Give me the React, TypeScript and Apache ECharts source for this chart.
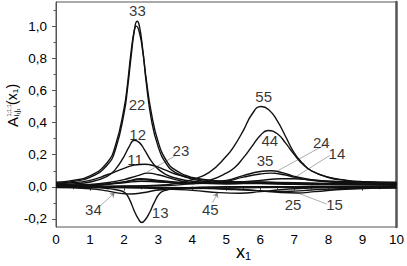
import React, { useEffect, useRef } from "react";
import * as echarts from "echarts";

// ---- data (x1, A) ----
const c33 = [[0,0.022],[0.5,0.033],[1,0.059],[1.5,0.134],[1.75,0.235],[2,0.46],[2.1,0.61],[2.2,0.8],[2.3,0.97],[2.38,1.03],[2.45,1.0],[2.55,0.85],[2.65,0.65],[2.8,0.42],[3,0.25],[3.25,0.14],[3.5,0.09],[4,0.048],[4.5,0.032],[5,0.025],[6,0.022],[7,0.02],[8,0.018],[10,0.015]];
const c22 = [[0,0.028],[0.5,0.04],[1,0.068],[1.5,0.15],[1.75,0.26],[2,0.49],[2.1,0.64],[2.2,0.83],[2.3,0.975],[2.36,1.0],[2.45,0.96],[2.55,0.84],[2.65,0.67],[2.8,0.46],[3,0.28],[3.25,0.16],[3.5,0.105],[4,0.058],[4.5,0.042],[5,0.034],[6,0.03],[7,0.025],[8,0.02],[10,0.016]];
const c12 = [[0,0.012],[0.5,0.018],[1,0.03],[1.5,0.065],[1.75,0.11],[2,0.19],[2.15,0.25],[2.3,0.29],[2.45,0.275],[2.6,0.23],[2.8,0.16],[3,0.11],[3.25,0.075],[3.5,0.055],[4,0.035],[5,0.022],[6,0.02],[7,0.015],[8,0.012],[10,0.01]];
const c11 = [[0,0.02],[0.5,0.025],[1,0.04],[1.5,0.075],[2,0.115],[2.3,0.135],[2.6,0.14],[2.9,0.13],[3.2,0.105],[3.5,0.08],[4,0.055],[4.5,0.04],[5,0.032],[6,0.028],[7,0.024],[8,0.02],[10,0.015]];
const c13 = [[0,0],[1,-0.003],[1.5,-0.01],[1.8,-0.02],[2.02,-0.036],[2.15,-0.075],[2.3,-0.15],[2.42,-0.2],[2.52,-0.222],[2.62,-0.205],[2.75,-0.16],[2.88,-0.1],[3.05,-0.04],[3.25,-0.02],[3.5,-0.01],[4,-0.004],[5,0],[10,0]];
const c55 = [[0,0.002],[1,0.003],[2,0.005],[3,0.01],[3.5,0.02],[4,0.045],[4.5,0.09],[5,0.19],[5.25,0.26],[5.5,0.35],[5.75,0.45],[6.02,0.5],[6.25,0.48],[6.5,0.41],[6.75,0.31],[7,0.21],[7.25,0.145],[7.5,0.1],[8,0.06],[8.5,0.042],[9,0.032],[10,0.022]];
const c44 = [[0,0],[2,0.003],[3,0.006],[4,0.02],[4.5,0.04],[5,0.085],[5.25,0.12],[5.5,0.18],[5.75,0.25],[6,0.32],[6.23,0.35],[6.5,0.33],[6.75,0.27],[7,0.2],[7.25,0.14],[7.5,0.1],[8,0.058],[8.5,0.04],[9,0.03],[10,0.02]];
const c35 = [[0,0.005],[1,0.01],[2,0.03],[2.5,0.05],[3,0.04],[4,0.025],[5,0.04],[5.5,0.07],[6,0.095],[6.3,0.1],[6.7,0.085],[7,0.065],[7.5,0.045],[8,0.035],[9,0.03],[10,0.025]];
const c24 = [[0,0.005],[1,0.008],[2,0.03],[2.5,0.045],[3,0.035],[4,0.02],[5,0.035],[5.5,0.06],[6,0.08],[6.3,0.085],[6.7,0.075],[7,0.06],[7.5,0.04],[8,0.03],[9,0.025],[10,0.02]];
const c14 = [[0,0.01],[1,0.012],[2,0.025],[2.5,0.035],[3,0.03],[4,0.02],[5,0.025],[6,0.04],[6.6,0.05],[7,0.05],[7.5,0.042],[8,0.035],[9,0.03],[10,0.028]];
const c23 = [[0,0.01],[1,0.015],[1.5,0.025],[2,0.045],[2.4,0.07],[2.7,0.085],[3,0.075],[3.5,0.045],[4,0.025],[5,0.018],[6,0.025],[7,0.02],[8,0.015],[10,0.012]];
const c34 = [[0,-0.005],[1,-0.012],[1.5,-0.025],[1.8,-0.038],[2.2,-0.045],[2.6,-0.035],[3,-0.02],[4,-0.01],[5,-0.008],[6,-0.005],[8,-0.003],[10,-0.002]];
const c45 = [[0,-0.002],[2,-0.005],[3,-0.01],[4,-0.022],[4.8,-0.036],[5.4,-0.04],[6,-0.03],[6.5,-0.02],[7,-0.012],[8,-0.006],[10,-0.003]];
const c15 = [[0,-0.002],[2,-0.004],[4,-0.008],[5,-0.015],[6,-0.025],[6.6,-0.035],[7.1,-0.038],[7.6,-0.03],[8.5,-0.015],[10,-0.008]];
const c25 = [[0,0],[2,-0.002],[4,-0.006],[5,-0.012],[5.8,-0.022],[6.4,-0.03],[7,-0.027],[7.5,-0.02],[8.5,-0.01],[10,-0.005]];

const curves = [c33, c22, c12, c11, c13, c55, c44, c35, c24, c14, c23, c34, c45, c15, c25];

// curve labels: [x, y, text]
const curveLabels = [
  [2.39, 1.1, "33"], [2.38, 0.515, "22"], [2.4, 0.326, "12"], [2.32, 0.17, "11"],
  [3.67, 0.226, "23"], [1.1, -0.144, "34"], [3.06, -0.157, "13"], [4.53, -0.138, "45"],
  [6.1, 0.56, "55"], [6.28, 0.29, "44"], [6.14, 0.163, "35"], [7.79, 0.273, "24"],
  [8.25, 0.207, "14"], [6.96, -0.113, "25"], [8.18, -0.113, "15"],
];
// leader lines (plain): [[x1,y1],[x2,y2]]
const leaders = [
  [[3.52, 0.195], [2.66, 0.09]],
  [[8.04, 0.278], [6.36, 0.082]],
  [[8.04, 0.195], [6.95, 0.05]],
  [[7.95, -0.107], [7.07, -0.036]],
];
// leader lines with arrow heads
const arrows = [
  [[1.29, -0.12], [1.73, -0.036]],
  [[4.6, -0.098], [4.75, -0.036]],
];

const yMajor = [-0.2, 0, 0.2, 0.4, 0.6, 0.8, 1.0];
const yMinor = [-0.1, 0.1, 0.3, 0.5, 0.7, 0.9, 1.1];

const FONT = "Liberation Sans, Arial, sans-serif";
const AX = "#555";
const TXT = "#000";

export default function App() {
  const ref = useRef<HTMLDivElement>(null);
  useEffect(() => {
    if (!ref.current) return;
    const chart = echarts.init(ref.current, undefined, { renderer: "svg" });
    const yBase = { type: "value", min: -0.25, max: 1.15, splitLine: { show: false } };
    const ts = (extra: any) => ({ fontFamily: FONT, fill: TXT, textAlign: "left", textVerticalAlign: "middle", align: "left", verticalAlign: "middle", ...extra });
    chart.setOption({
      animation: false,
      grid: { left: 56, right: 10, top: 2, bottom: 39, show: true, borderColor: AX, borderWidth: 1 },
      xAxis: {
        type: "value", min: 0, max: 10, interval: 1,
        axisLine: { lineStyle: { color: AX, width: 1 } },
        axisTick: { show: true, length: 4, lineStyle: { color: AX } },
        minorTick: { show: true, splitNumber: 2, length: 2.5, lineStyle: { color: AX } },
        axisLabel: { fontSize: 13.5, color: TXT, fontFamily: FONT, margin: 5 },
        splitLine: { show: false },
      },
      yAxis: [
        {
          ...yBase, position: "left",
          axisLine: { show: true, lineStyle: { color: AX, width: 1 } },
          axisTick: { show: true, length: 4, customValues: yMajor, lineStyle: { color: AX } },
          axisLabel: {
            customValues: yMajor, fontSize: 13.5, color: TXT, fontFamily: FONT, margin: 9,
            formatter: (v: number) => v.toFixed(1).replace(".", ","),
          },
        },
        {
          ...yBase, position: "left",
          axisLine: { show: false },
          axisTick: { show: true, length: 2.5, customValues: yMinor, lineStyle: { color: AX } },
          axisLabel: { show: false },
        },
        {
          ...yBase, position: "right",
          axisLine: { show: true, lineStyle: { color: AX, width: 2.5 } },
          axisTick: { show: false },
          axisLabel: { show: false },
        },
      ],
      series: [
        ...curves.map((d) => ({
          type: "line", data: d, smooth: 0.5, showSymbol: false,
          symbol: "none", lineStyle: { color: "#111", width: 1.4 }, z: 2,
        })),
        {
          type: "lines", coordinateSystem: "cartesian2d", data: leaders.map((c) => ({ coords: c })),
          lineStyle: { color: "#333", width: 0.8 }, symbol: "none", z: 3,
        },
        {
          type: "lines", coordinateSystem: "cartesian2d", data: arrows.map((c) => ({ coords: c })),
          lineStyle: { color: "#333", width: 0.8 }, symbol: ["none", "arrow"], symbolSize: 5, z: 3,
        },
        {
          type: "scatter", data: curveLabels.map((l) => ({ value: [l[0], l[1]], name: l[2] })),
          symbolSize: 0, z: 4,
          label: {
            show: true, position: "inside", formatter: (p: any) => p.name,
            fontSize: 15, color: TXT, fontFamily: FONT, align: "center", verticalAlign: "middle",
          },
        },
      ],
      graphic: [
        {
          type: "text", left: 236, top: 243,
          style: { text: "x\u2081", fontSize: 18, fontFamily: FONT, fill: TXT },
        },
        {
          type: "group", x: 12, y: 127, rotation: Math.PI / 2,
          children: [
            { type: "text", x: 0, y: 0, style: ts({ text: "A", fontSize: 15 }) },
            { type: "text", x: 10.5, y: -3.5, style: ts({ text: "1;1;1", fontSize: 5.5 }) },
            { type: "text", x: 10.5, y: 4, style: ts({ text: "i\u2081j\u2081", fontSize: 7.5 }) },
            { type: "text", x: 22, y: 0, style: ts({ text: "(x\u2081)", fontSize: 14 }) },
          ],
        },
      ],
    });
    return () => chart.dispose();
  }, []);
  return <div ref={ref} style={{ width: 407, height: 266, position: "absolute", left: 0, top: 0 }} />;
}
